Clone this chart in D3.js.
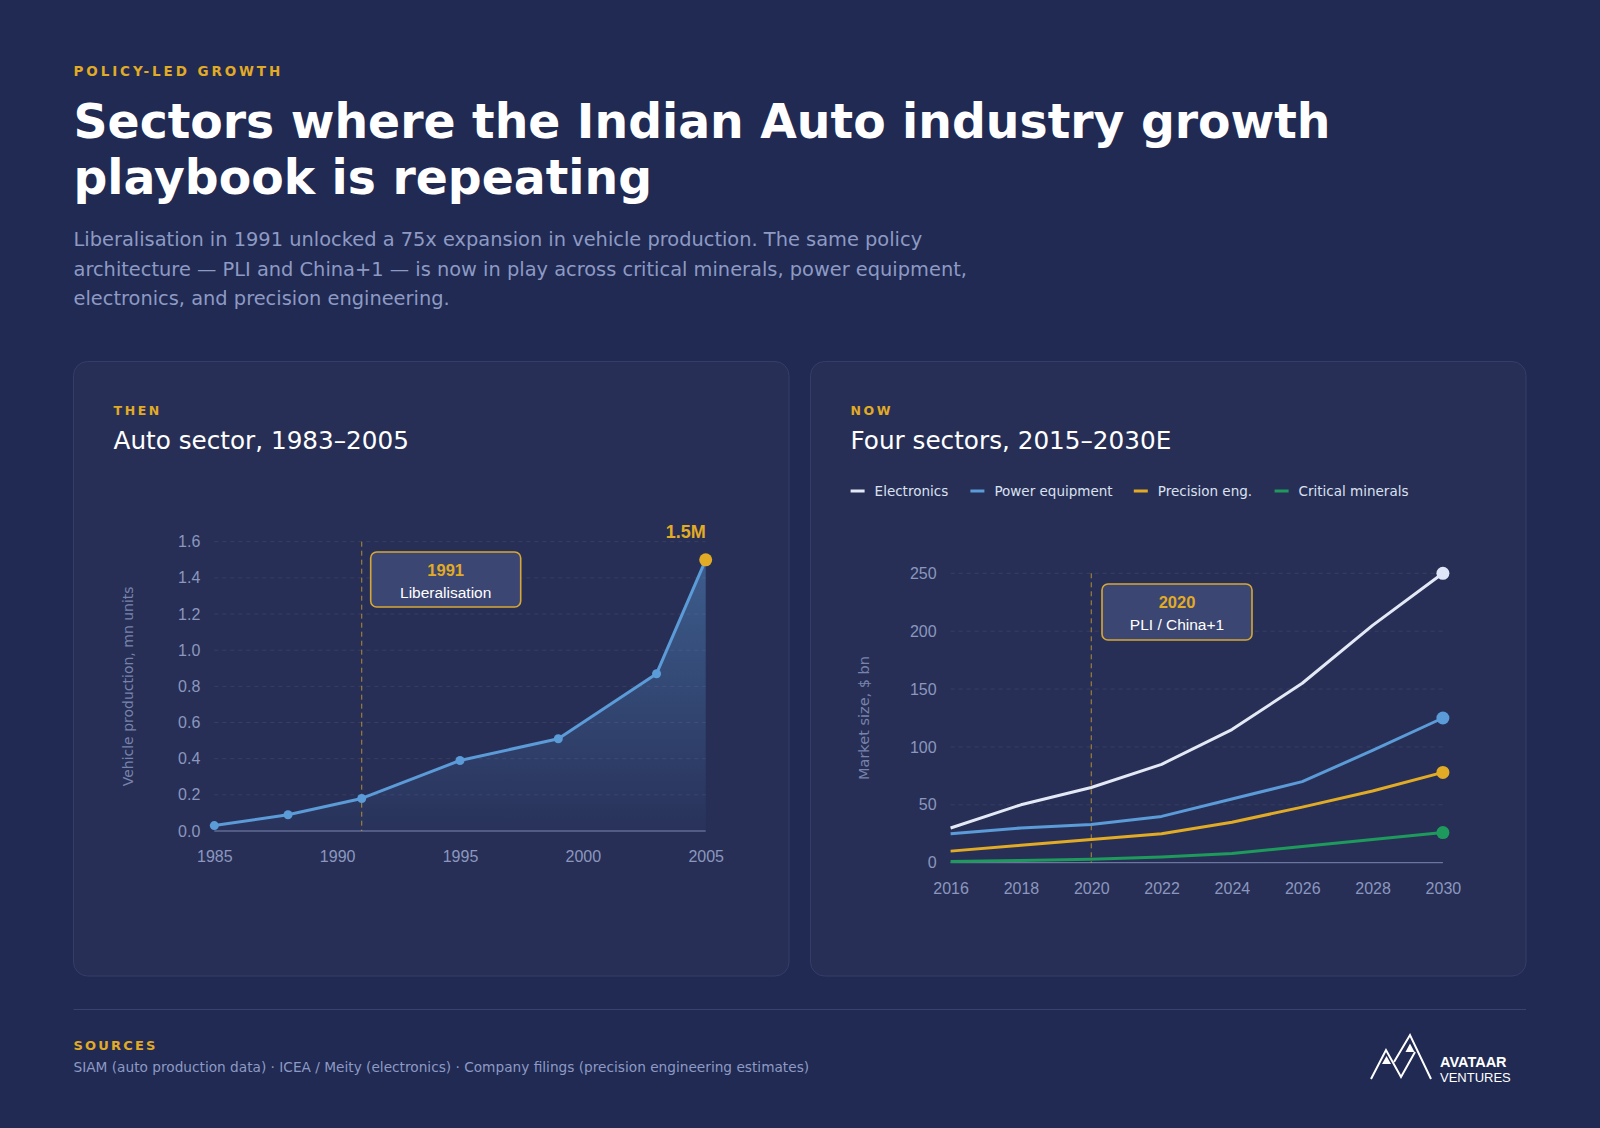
<!DOCTYPE html>
<html>
<head>
<meta charset="utf-8">
<script src="https://cdn.jsdelivr.net/npm/d3@7/dist/d3.min.js"></script>
<style>
  html, body { margin: 0; padding: 0; background: #202a53; }
  svg { display: block; }
</style>
</head>
<body>
<svg id="chart" width="1600" height="1128"></svg>
<script>
// ---------- DATA ----------
const autoYears = [1985, 1988, 1991, 1995, 1999, 2003, 2005];
const autoValues = [0.03, 0.09, 0.18, 0.39, 0.51, 0.87, 1.5];
const autoYTicks = [0, 0.2, 0.4, 0.6, 0.8, 1.0, 1.2, 1.4, 1.6];
const autoXTicks = [1985, 1990, 1995, 2000, 2005];

const sectorYears = [2016, 2018, 2020, 2022, 2024, 2026, 2028, 2030];
const electronics = [30, 50, 65, 85, 115, 155, 205, 250];
const powerEquipment = [25, 30, 33, 40, 55, 70, 97, 125];
const precisionEng = [10, 15, 20, 25, 35, 48, 62, 78];
const criticalMinerals = [1, 2, 3, 5, 8, 14, 20, 26];
const sectorNames = ["Electronics", "Power equipment", "Precision eng.", "Critical minerals"];
const sectorYTicks = [0, 50, 100, 150, 200, 250];
const sectorXTicks = [2016, 2018, 2020, 2022, 2024, 2026, 2028, 2030];

// ---------- STYLE ----------
const C = {
  bg: "#202a53", card: "#272f56", cardStroke: "#343e69",
  gold: "#e2ab25", white: "#ffffff", sub: "#8e9ac4",
  tick: "#8b97bf", axisTitle: "#7783ab", grid: "rgba(255,255,255,0.08)",
  base: "#7c88b2", blue: "#5b9bd8", elec: "#e4e9f6", green: "#1e9a5c"
};
const sectorColors = [C.elec, C.blue, C.gold, C.green];
const sectorDot = ["#dfe6f8", C.blue, C.gold, C.green];
const sectorSeries = [electronics, powerEquipment, precisionEng, criticalMinerals];

const DV = "'DejaVu Sans', sans-serif";
const LS = "'Liberation Sans', Arial, sans-serif";

const svg = d3.select("#chart");
svg.append("rect").attr("width", 1600).attr("height", 1128).attr("fill", C.bg);

// ---------- HEADER ----------
svg.append("text").attr("x", 73.5).attr("y", 76).text("POLICY-LED GROWTH")
  .attr("font-family", DV).attr("font-weight", "bold").attr("font-size", 13.5)
  .attr("letter-spacing", 2.9).attr("fill", C.gold);
const titleLines = ["Sectors where the Indian Auto industry growth", "playbook is repeating"];
svg.append("g").selectAll("text").data(titleLines).join("text")
  .attr("x", 73.5).attr("y", (d, i) => 138 + i * 56).text(d => d)
  .attr("font-family", DV).attr("font-weight", "bold").attr("font-size", 47.3)
  .attr("fill", C.white);
const subLines = [
  "Liberalisation in 1991 unlocked a 75x expansion in vehicle production. The same policy",
  "architecture \u2014 PLI and China+1 \u2014 is now in play across critical minerals, power equipment,",
  "electronics, and precision engineering."
];
svg.append("g").selectAll("text").data(subLines).join("text")
  .attr("x", 73.5).attr("y", (d, i) => 246 + i * 29.5).text(d => d)
  .attr("font-family", DV).attr("font-size", 19.4).attr("fill", C.sub);

// ---------- CARDS ----------
const cards = [
  { x: 73.5, eyebrow: "THEN", title: "Auto sector, 1983\u20132005" },
  { x: 810.5, eyebrow: "NOW", title: "Four sectors, 2015\u20132030E" }
];
cards.forEach(c => {
  svg.append("rect").attr("x", c.x).attr("y", 361.5).attr("width", 715.5).attr("height", 614.5)
    .attr("rx", 14).attr("fill", C.card).attr("stroke", C.cardStroke).attr("stroke-width", 1);
  svg.append("text").attr("x", c.x + 40).attr("y", 415).text(c.eyebrow)
    .attr("font-family", DV).attr("font-weight", "bold").attr("font-size", 12.5)
    .attr("letter-spacing", 2.6).attr("fill", C.gold);
  svg.append("text").attr("x", c.x + 40).attr("y", 449).text(c.title)
    .attr("font-family", DV).attr("font-size", 24.7).attr("fill", C.white);
});

// ---------- helpers ----------
function styleAxis(g) {
  g.select(".domain").remove();
  g.selectAll("text").attr("font-family", LS).attr("font-size", 16).attr("fill", C.tick);
}

// ---------- LEFT CHART ----------
const xA = d3.scaleLinear().domain([1985, 2005]).range([214.3, 705.7]);
const yA = d3.scaleLinear().domain([0, 1.6]).range([831, 541.7]);
const gA = svg.append("g");

gA.append("g").selectAll("line").data(autoYTicks.filter(t => t > 0)).join("line")
  .attr("x1", xA.range()[0]).attr("x2", xA.range()[1])
  .attr("y1", d => yA(d)).attr("y2", d => yA(d))
  .attr("stroke", C.grid).attr("stroke-dasharray", "4,4");

const defs = svg.append("defs");
const grad = defs.append("linearGradient").attr("id", "autoFill")
  .attr("gradientUnits", "userSpaceOnUse").attr("x1", 0).attr("x2", 0)
  .attr("y1", yA(1.5)).attr("y2", yA(0));
grad.append("stop").attr("offset", 0).attr("stop-color", C.blue).attr("stop-opacity", 0.42);
grad.append("stop").attr("offset", 1).attr("stop-color", C.blue).attr("stop-opacity", 0.03);
const autoData = autoYears.map((y, i) => ({ x: y, v: autoValues[i] }));
gA.append("path").datum(autoData)
  .attr("d", d3.area().x(d => xA(d.x)).y0(yA(0)).y1(d => yA(d.v)))
  .attr("fill", "url(#autoFill)");

gA.append("line").attr("x1", xA.range()[0]).attr("x2", xA.range()[1])
  .attr("y1", yA(0)).attr("y2", yA(0)).attr("stroke", C.base).attr("stroke-width", 1);

gA.append("g").attr("transform", `translate(${xA.range()[0]},0)`)
  .call(d3.axisLeft(yA).tickValues(autoYTicks).tickSize(0).tickPadding(14).tickFormat(d3.format(".1f")))
  .call(styleAxis);
gA.append("g").attr("transform", `translate(0,${yA(0)})`)
  .call(d3.axisBottom(xA).tickValues(autoXTicks).tickSize(0).tickPadding(20).tickFormat(d3.format("d")))
  .call(styleAxis);
gA.append("text").attr("transform", `translate(133,${(yA(0) + yA(1.6)) / 2}) rotate(-90)`)
  .attr("text-anchor", "middle").text("Vehicle production, mn units")
  .attr("font-family", DV).attr("font-size", 14).attr("fill", C.axisTitle);

gA.append("line").attr("x1", xA(1991)).attr("x2", xA(1991)).attr("y1", yA(1.6)).attr("y2", yA(0))
  .attr("stroke", C.gold).attr("stroke-opacity", 0.75).attr("stroke-dasharray", "5,4");

gA.append("path").datum(autoData)
  .attr("d", d3.line().x(d => xA(d.x)).y(d => yA(d.v)))
  .attr("fill", "none").attr("stroke", C.blue).attr("stroke-width", 3).attr("stroke-linejoin", "round");
gA.append("g").selectAll("circle").data(autoData.slice(0, -1)).join("circle")
  .attr("cx", d => xA(d.x)).attr("cy", d => yA(d.v)).attr("r", 4.5).attr("fill", C.blue);
const last = autoData[autoData.length - 1];
gA.append("circle").attr("cx", xA(last.x)).attr("cy", yA(last.v)).attr("r", 6.5).attr("fill", C.gold);
gA.append("text").attr("x", xA(last.x)).attr("y", yA(last.v) - 22).attr("text-anchor", "end")
  .text("1.5M").attr("font-family", LS).attr("font-weight", "bold").attr("font-size", 18).attr("fill", C.gold);

function annot(g, cx, top, w, h, t1, t2) {
  g.append("rect").attr("x", cx - w / 2).attr("y", top).attr("width", w).attr("height", h).attr("rx", 6)
    .attr("fill", "#3b4673").attr("stroke", "#d7a836").attr("stroke-width", 1.6);
  g.append("text").attr("x", cx).attr("y", top + 24).attr("text-anchor", "middle").text(t1)
    .attr("font-family", LS).attr("font-weight", "bold").attr("font-size", 16.5).attr("fill", C.gold);
  g.append("text").attr("x", cx).attr("y", top + 46).attr("text-anchor", "middle").text(t2)
    .attr("font-family", LS).attr("font-size", 15.5).attr("fill", "#ffffff");
}
annot(gA, 445.7, 552, 150, 55, "1991", "Liberalisation");

// ---------- RIGHT CHART ----------
const xB = d3.scaleLinear().domain([2016, 2030]).range([950.6, 1442.9]);
const yB = d3.scaleLinear().domain([0, 250]).range([862.7, 573.3]);
const gB = svg.append("g");

gB.append("g").selectAll("line").data(sectorYTicks.filter(t => t > 0)).join("line")
  .attr("x1", xB.range()[0]).attr("x2", xB.range()[1])
  .attr("y1", d => yB(d)).attr("y2", d => yB(d))
  .attr("stroke", C.grid).attr("stroke-dasharray", "4,4");
gB.append("line").attr("x1", xB.range()[0]).attr("x2", xB.range()[1])
  .attr("y1", yB(0)).attr("y2", yB(0)).attr("stroke", C.base).attr("stroke-width", 1);

gB.append("g").attr("transform", `translate(${xB.range()[0]},0)`)
  .call(d3.axisLeft(yB).tickValues(sectorYTicks).tickSize(0).tickPadding(14))
  .call(styleAxis);
gB.append("g").attr("transform", `translate(0,${yB(0)})`)
  .call(d3.axisBottom(xB).tickValues(sectorXTicks).tickSize(0).tickPadding(20).tickFormat(d3.format("d")))
  .call(styleAxis);
gB.append("text").attr("transform", `translate(869,${(yB(0) + yB(250)) / 2}) rotate(-90)`)
  .attr("text-anchor", "middle").text("Market size, $ bn")
  .attr("font-family", DV).attr("font-size", 14.5).attr("fill", C.axisTitle);

gB.append("line").attr("x1", xB(2020)).attr("x2", xB(2020)).attr("y1", yB(250)).attr("y2", yB(0))
  .attr("stroke", C.gold).attr("stroke-opacity", 0.75).attr("stroke-dasharray", "5,4");

const lineB = d3.line().x(d => xB(d.x)).y(d => yB(d.v));
sectorSeries.slice().reverse().forEach((vals, ri) => {
  const i = sectorSeries.length - 1 - ri;
  const data = sectorYears.map((y, k) => ({ x: y, v: vals[k] }));
  gB.append("path").datum(data).attr("d", lineB).attr("fill", "none")
    .attr("stroke", sectorColors[i]).attr("stroke-width", 3).attr("stroke-linejoin", "round");
  const e = data[data.length - 1];
  gB.append("circle").attr("cx", xB(e.x)).attr("cy", yB(e.v)).attr("r", 6.5).attr("fill", sectorDot[i]);
});

annot(gB, 1177, 584, 150, 56, "2020", "PLI / China+1");

const legendX = [850.6, 970.4, 1133.8, 1274.6];
const lg = svg.append("g").selectAll("g").data(sectorNames).join("g")
  .attr("transform", (d, i) => `translate(${legendX[i]},496)`);
lg.append("line").attr("x1", 0).attr("x2", 14).attr("y1", -5).attr("y2", -5)
  .attr("stroke", (d, i) => sectorColors[i]).attr("stroke-width", 3);
lg.append("text").attr("x", 24).attr("y", 0).text(d => d)
  .attr("font-family", DV).attr("font-size", 13.5).attr("fill", "#dbe1f1");

// ---------- FOOTER ----------
svg.append("line").attr("x1", 73.5).attr("x2", 1526).attr("y1", 1009.5).attr("y2", 1009.5)
  .attr("stroke", "#37426f").attr("stroke-width", 1.2);
svg.append("text").attr("x", 73.5).attr("y", 1049.5).text("SOURCES")
  .attr("font-family", DV).attr("font-weight", "bold").attr("font-size", 13)
  .attr("letter-spacing", 2.2).attr("fill", C.gold);
svg.append("text").attr("x", 73.5).attr("y", 1071.5)
  .text("SIAM (auto production data) \u00b7 ICEA / Meity (electronics) \u00b7 Company filings (precision engineering estimates)")
  .attr("font-family", DV).attr("font-size", 13.7).attr("fill", C.sub);

// logo
const logo = svg.append("g").attr("fill", "none").attr("stroke", "#ffffff").attr("stroke-width", 2)
  .attr("stroke-linejoin", "miter");
logo.append("path").attr("d", "M1371,1079 L1386,1050 L1401,1077 L1415,1052");
logo.append("path").attr("d", "M1394,1062 L1410,1035 L1431,1079");
logo.append("path").attr("d", "M1382,1064 L1391,1064 L1386.5,1056 Z").attr("fill", "#ffffff").attr("stroke", "none");
logo.append("path").attr("d", "M1405.5,1052 L1414.5,1052 L1410,1043.5 Z").attr("fill", "#ffffff").attr("stroke", "none");
svg.append("text").attr("x", 1440).attr("y", 1067).text("AVATAAR")
  .attr("font-family", LS).attr("font-weight", "bold").attr("font-size", 14.5).attr("fill", "#ffffff");
svg.append("text").attr("x", 1440).attr("y", 1081.5).text("VENTURES")
  .attr("font-family", LS).attr("font-size", 13).attr("fill", "#ffffff");
</script>
</body>
</html>
